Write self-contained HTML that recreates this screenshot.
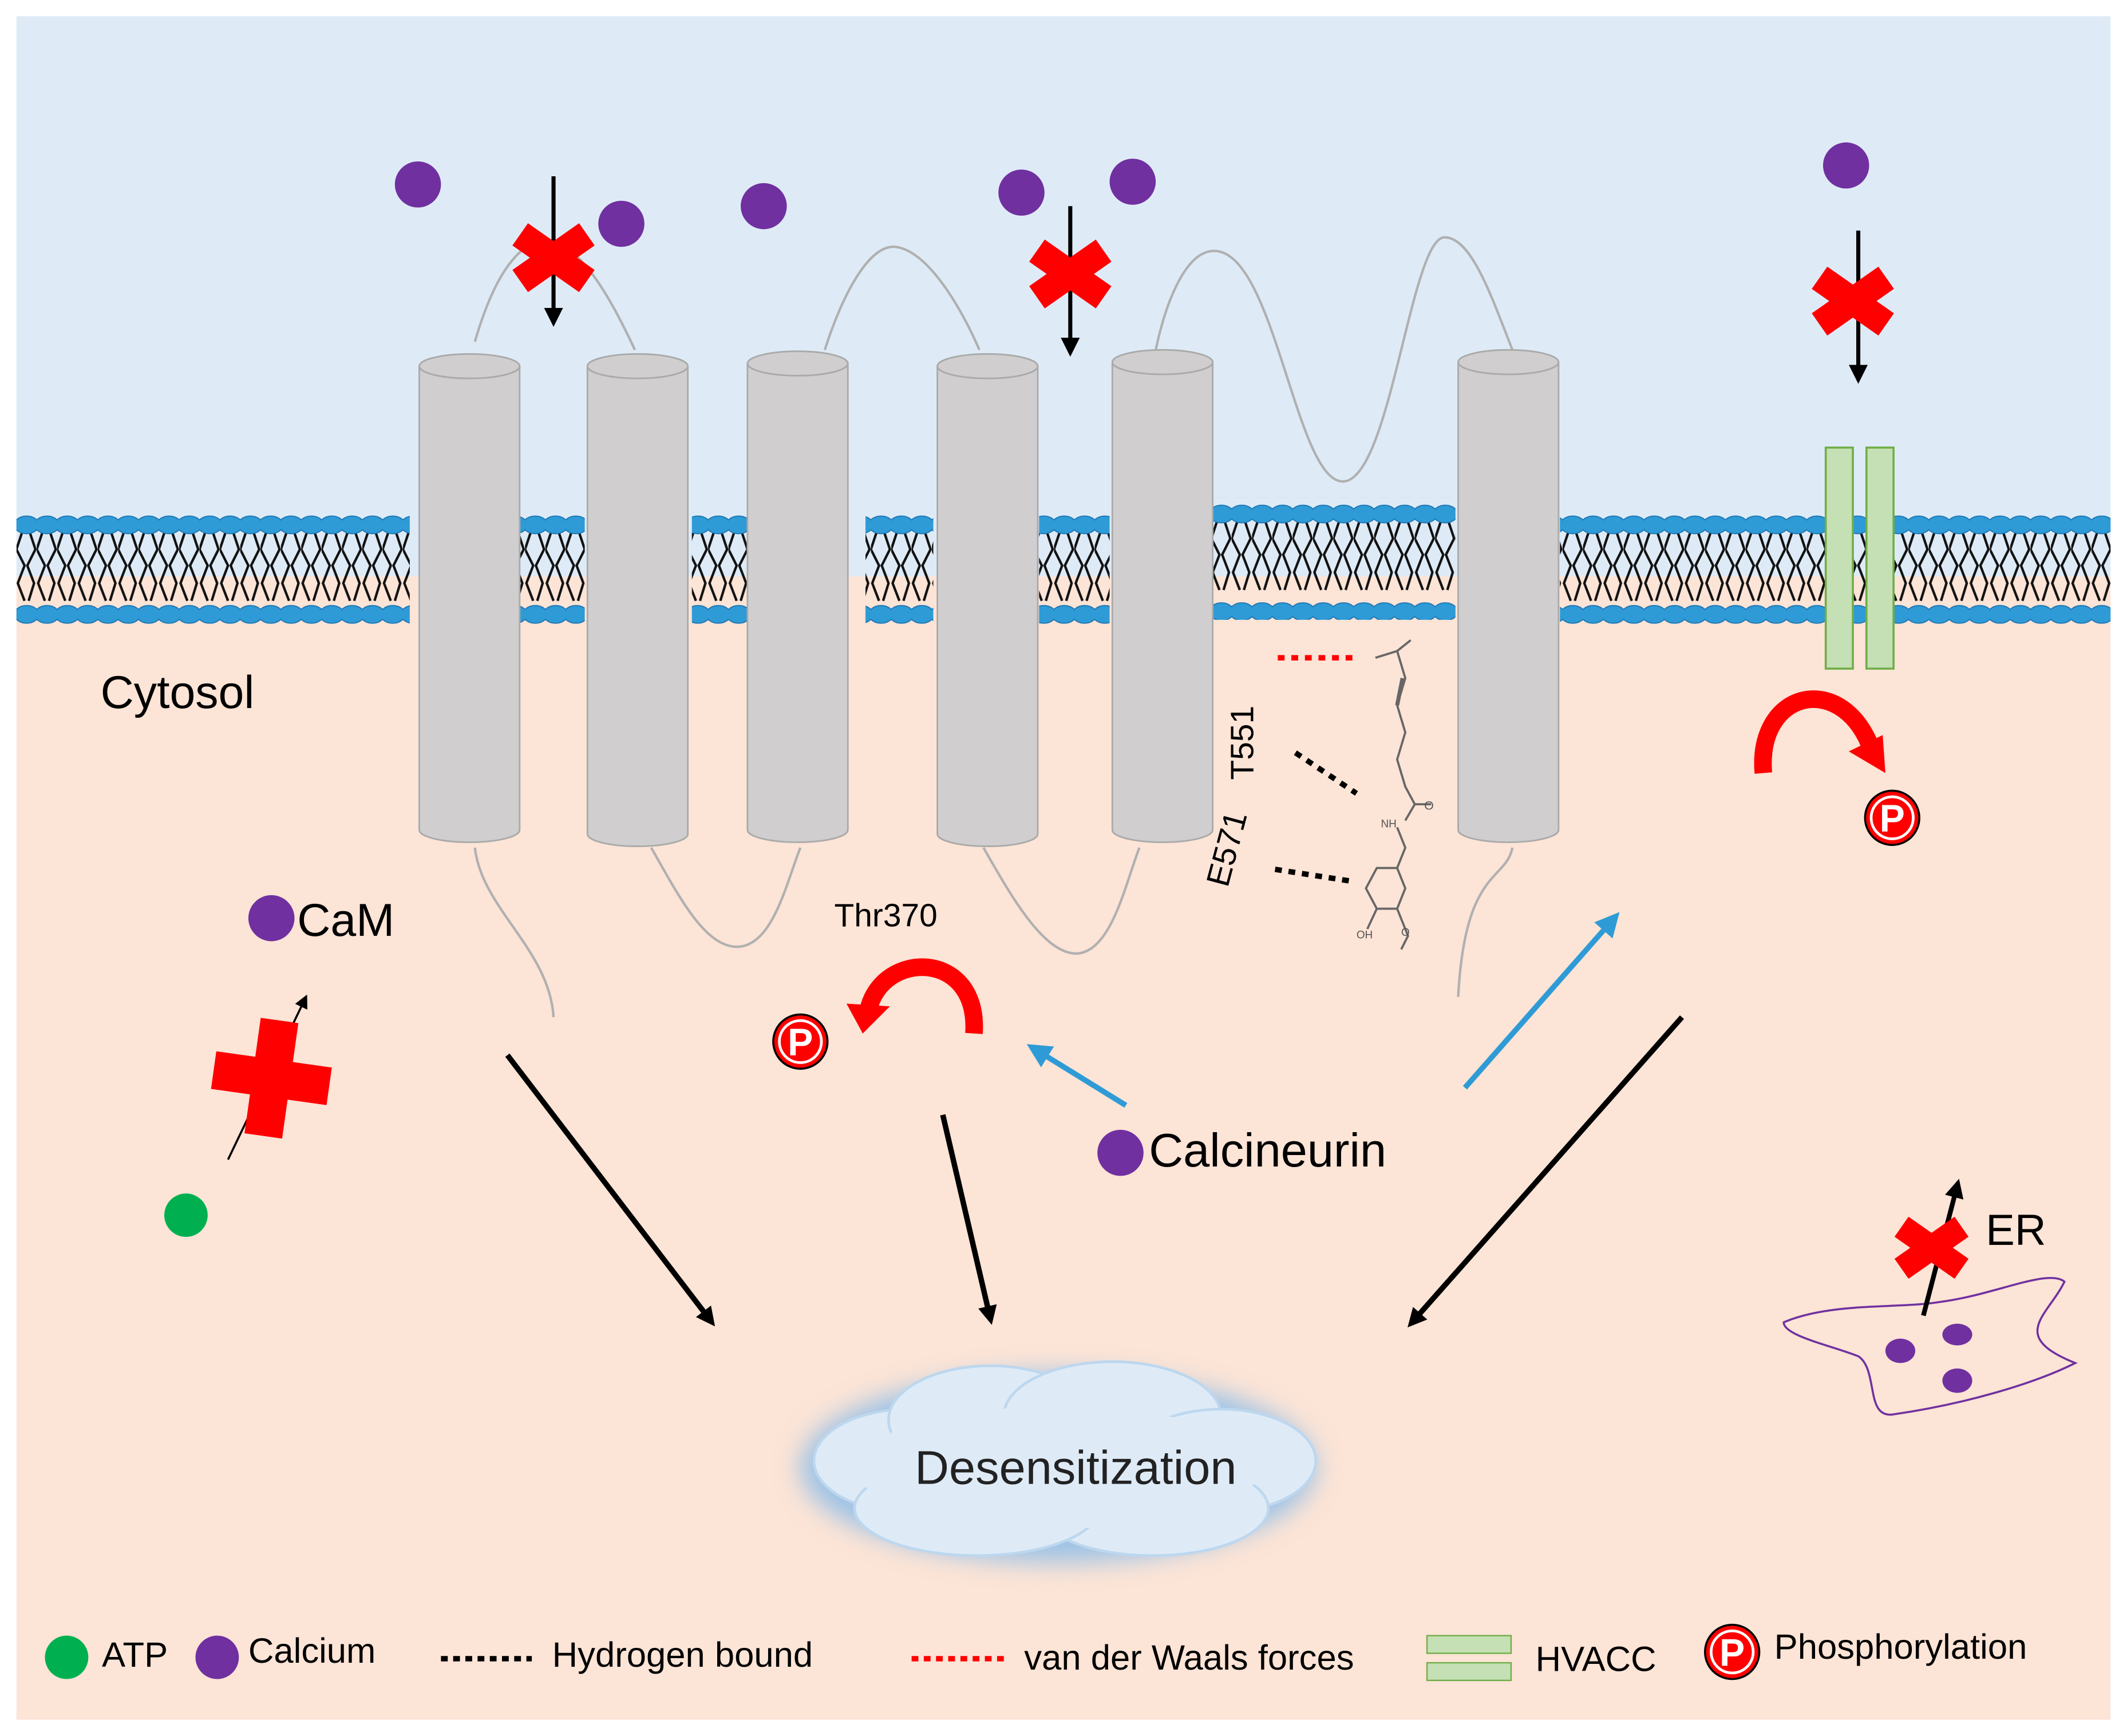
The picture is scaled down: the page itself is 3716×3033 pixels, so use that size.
<!DOCTYPE html>
<html><head><style>html,body{margin:0;padding:0;background:#fff}svg{display:block}</style></head><body>
<svg width="3716" height="3033" viewBox="0 0 1568 1280" xmlns="http://www.w3.org/2000/svg" font-family="Liberation Sans, sans-serif">
<defs>
<pattern id="lip" x="0" y="0" width="15" height="90" patternUnits="userSpaceOnUse" patternTransform="translate(12,375)">
<path d="M4 18 L0 30 L6 42 L1 55 L6 68 M10 18 L14 30 L8 42 L13 55 L9 68" stroke="#111" stroke-width="1.8" fill="none"/>
<ellipse cx="7.5" cy="12" rx="9" ry="6.5" fill="#2e9bd6" stroke="#1f77b4" stroke-width="0.8"/>
<ellipse cx="7.5" cy="78" rx="9" ry="6.5" fill="#2e9bd6" stroke="#1f77b4" stroke-width="0.8"/>
</pattern>
<pattern id="lip2" x="0" y="0" width="15" height="90" patternUnits="userSpaceOnUse" patternTransform="translate(893,367)">
<path d="M4 18 L0 30 L6 42 L1 55 L6 68 M10 18 L14 30 L8 42 L13 55 L9 68" stroke="#111" stroke-width="1.8" fill="none"/>
<ellipse cx="7.5" cy="12" rx="9" ry="6.5" fill="#2e9bd6" stroke="#1f77b4" stroke-width="0.8"/>
<ellipse cx="7.5" cy="84" rx="9" ry="6.5" fill="#2e9bd6" stroke="#1f77b4" stroke-width="0.8"/>
</pattern>
<filter id="glow" x="-30%" y="-50%" width="160%" height="200%"><feGaussianBlur stdDeviation="9"/></filter>
<marker id="ah" markerWidth="10" markerHeight="10" refX="7" refY="5" orient="auto" markerUnits="userSpaceOnUse" viewBox="0 0 10 10"><path d="M0 0 L10 5 L0 10 Z" fill="#000"/></marker>
<marker id="ahb" markerWidth="14" markerHeight="14" refX="9" refY="7" orient="auto" markerUnits="userSpaceOnUse" viewBox="0 0 14 14"><path d="M0 0 L14 7 L0 14 Z" fill="#000"/></marker>
<marker id="ahl" markerWidth="18" markerHeight="18" refX="12" refY="9" orient="auto" markerUnits="userSpaceOnUse" viewBox="0 0 18 18"><path d="M0 0 L18 9 L0 18 Z" fill="#2e9bd6"/></marker>
<g id="x"><rect x="-30" y="-10" width="60" height="20" fill="#f00" transform="rotate(35)"/><rect x="-30" y="-10" width="60" height="20" fill="#f00" transform="rotate(-35)"/></g>
<g id="p"><circle r="20" fill="#f00" stroke="#000" stroke-width="1.5"/><circle r="15.5" fill="none" stroke="#fff" stroke-width="2"/><text y="10" text-anchor="middle" font-size="28" font-weight="bold" fill="#fff">P</text></g>
</defs>
<rect x="12" y="12" width="1544" height="413" fill="#deebf7"/>
<rect x="12" y="425" width="1544" height="843" fill="#fce4d6"/>
<rect x="12" y="375" width="290" height="95" fill="url(#lip)"/>
<rect x="383" y="375" width="48" height="95" fill="url(#lip)"/>
<rect x="510" y="375" width="50" height="95" fill="url(#lip)"/>
<rect x="638" y="375" width="50" height="95" fill="url(#lip)"/>
<rect x="766" y="375" width="52" height="95" fill="url(#lip)"/>
<rect x="893" y="367" width="180" height="95" fill="url(#lip2)"/>
<rect x="1150" y="375" width="406" height="95" fill="url(#lip)"/>
<g fill="none" stroke="#b0b0b0" stroke-width="1.8">
<path d="M350 252 C365 200 385 175 405 178 C430 180 455 230 468 258"/>
<path d="M608 258 C620 220 640 180 660 182 C685 185 710 230 722 258"/>
<path d="M852 258 C860 220 875 185 895 185 C940 185 955 355 990 355 C1025 355 1040 175 1065 175 C1085 175 1100 220 1115 258"/>
<path d="M350 625 C355 670 405 700 408 750"/>
<path d="M480 625 C500 660 520 700 545 698 C570 696 580 650 590 625"/>
<path d="M725 625 C745 660 770 705 795 703 C820 700 830 650 840 625"/>
<path d="M1115 625 C1110 650 1080 640 1075 735"/>
</g>
<g fill="#d0cece" stroke="#aaa" stroke-width="1.2">
<path d="M309 270 V612 A37 9 0 0 0 383 612 V270 Z"/><ellipse cx="346" cy="270" rx="37" ry="9"/>
<path d="M433 270 V615 A37 9 0 0 0 507 615 V270 Z"/><ellipse cx="470" cy="270" rx="37" ry="9"/>
<path d="M551 268 V612 A37 9 0 0 0 625 612 V268 Z"/><ellipse cx="588" cy="268" rx="37" ry="9"/>
<path d="M691 270 V615 A37 9 0 0 0 765 615 V270 Z"/><ellipse cx="728" cy="270" rx="37" ry="9"/>
<path d="M820 267 V612 A37 9 0 0 0 894 612 V267 Z"/><ellipse cx="857" cy="267" rx="37" ry="9"/>
<path d="M1075 267 V612 A37 9 0 0 0 1149 612 V267 Z"/><ellipse cx="1112" cy="267" rx="37" ry="9"/>
</g>
<rect x="1346" y="330" width="20" height="163" fill="#c5e0b4" stroke="#70ad47" stroke-width="1.5"/>
<rect x="1376" y="330" width="20" height="163" fill="#c5e0b4" stroke="#70ad47" stroke-width="1.5"/>
<g fill="#7030a0">
<circle cx="308" cy="136" r="17"/><circle cx="458" cy="165" r="17"/><circle cx="563" cy="152" r="17"/>
<circle cx="753" cy="142" r="17"/><circle cx="835" cy="134" r="17"/><circle cx="1361" cy="122" r="17"/>
<circle cx="200" cy="677" r="17"/><circle cx="826" cy="850" r="17"/>
</g>
<g stroke="#000" stroke-width="3">
<line x1="408" y1="130" x2="408" y2="236" marker-end="url(#ahb)"/>
<line x1="789" y1="152" x2="789" y2="258" marker-end="url(#ahb)"/>
<line x1="1370" y1="170" x2="1370" y2="278" marker-end="url(#ahb)"/>
</g>
<use href="#x" transform="translate(408,190)"/>
<use href="#x" transform="translate(789,202)"/>
<use href="#x" transform="translate(1366,222)"/>
<line x1="168" y1="855" x2="225" y2="736" stroke="#000" stroke-width="1.5" marker-end="url(#ah)"/>
<g transform="translate(200,795) rotate(8)"><rect x="-43" y="-14" width="86" height="28" fill="#f00"/><rect x="-14" y="-43" width="28" height="86" fill="#f00"/></g>
<circle cx="137" cy="896" r="16" fill="#00b050"/>
<g stroke="#000" stroke-width="4">
<line x1="374" y1="778" x2="524" y2="974" marker-end="url(#ahb)"/>
<line x1="695" y1="822" x2="730" y2="972" marker-end="url(#ahb)"/>
<line x1="1240" y1="750" x2="1041" y2="975" marker-end="url(#ahb)"/>
</g>
<g stroke="#2e9bd6" stroke-width="4">
<line x1="830" y1="815" x2="762" y2="773" marker-end="url(#ahl)"/>
<line x1="1080" y1="802" x2="1190" y2="677" marker-end="url(#ahl)"/>
</g>
<path d="M1300 570 C1295 510 1355 495 1378 548" stroke="#f00" stroke-width="13" fill="none"/>
<path d="M1365 552 L1392 568 L1390 540 Z" fill="#f00" transform="translate(-2,2)"/>
<use href="#p" transform="translate(1395,603)"/>
<path d="M718 762 C722 700 650 700 640 745" stroke="#f00" stroke-width="13" fill="none"/>
<path d="M624 740 L636 762 L656 742 Z" fill="#f00"/>
<use href="#p" transform="translate(590,768)"/>
<g stroke="#666" stroke-width="1.6" fill="none">
<path d="M1014 485 L1030 480 L1040 472 M1030 480 L1036 500 L1030 520 L1036 540 L1030 560 L1036 580 L1043 593 L1036 605 M1043 593 L1055 593"/>
<path d="M1034 500 L1030 520" stroke-width="3"/>
<path d="M1030 610 L1036 625 L1030 640 L1015 640 L1007 655 L1015 670 L1030 670 L1036 655 L1030 640 M1015 670 L1008 685 M1030 670 L1038 690 L1033 700"/>
</g>
<text x="1050" y="597" font-size="9" fill="#555">O</text>
<text x="1018" y="610" font-size="8" fill="#555">NH</text>
<text x="1000" y="692" font-size="8" fill="#555">OH</text>
<text x="1033" y="690" font-size="8" fill="#555">O</text>
<line x1="942" y1="485" x2="1000" y2="485" stroke="#f00" stroke-width="4" stroke-dasharray="5,5"/>
<line x1="955" y1="555" x2="1000" y2="585" stroke="#000" stroke-width="4" stroke-dasharray="5,5"/>
<line x1="940" y1="641" x2="998" y2="650" stroke="#000" stroke-width="4" stroke-dasharray="5,5"/>
<text transform="translate(924,575) rotate(-90)" font-size="24">T551</text>
<text transform="translate(905,655) rotate(-75)" font-size="24">E571</text>
<path d="M1315 975 C1350 960 1400 965 1430 960 C1470 955 1510 935 1522 945 C1510 970 1480 985 1530 1005 C1500 1020 1450 1035 1395 1043 C1375 1045 1385 1010 1370 1000 C1350 992 1315 985 1315 975 Z" fill="none" stroke="#7030a0" stroke-width="1.5"/>
<g fill="#7030a0"><ellipse cx="1401" cy="996" rx="11" ry="9"/><ellipse cx="1443" cy="984" rx="11" ry="8"/><ellipse cx="1443" cy="1018" rx="11" ry="9"/></g>
<line x1="1418" y1="970" x2="1443" y2="874" stroke="#000" stroke-width="3.5" marker-end="url(#ahb)"/>
<use href="#x" transform="translate(1424,920) scale(0.9)"/>
<g transform="translate(780,1082)">
<ellipse rx="190" ry="70" fill="#9dc3e6" filter="url(#glow)"/>
<g fill="#deebf7" stroke="#bdd7ee" stroke-width="2">
<ellipse cx="-110" cy="-5" rx="70" ry="38"/><ellipse cx="-50" cy="-35" rx="75" ry="40"/><ellipse cx="40" cy="-38" rx="80" ry="40"/>
<ellipse cx="120" cy="-5" rx="70" ry="38"/><ellipse cx="70" cy="30" rx="85" ry="35"/><ellipse cx="-60" cy="30" rx="90" ry="35"/>
<ellipse cx="0" cy="0" rx="150" ry="45" stroke="none"/>
</g>
</g>
<text x="74" y="522" font-size="34">Cytosol</text>
<text x="219" y="690" font-size="34">CaM</text>
<text x="615" y="683" font-size="24">Thr370</text>
<text x="847" y="860" font-size="35">Calcineurin</text>
<text x="1464" y="918" font-size="32">ER</text>
<text x="793" y="1094" font-size="35" text-anchor="middle" fill="#222">Desensitization</text>
<circle cx="49" cy="1222" r="16" fill="#00b050"/><text x="75" y="1229" font-size="26">ATP</text>
<circle cx="160" cy="1222" r="16" fill="#7030a0"/><text x="183" y="1226" font-size="26">Calcium</text>
<line x1="325" y1="1223" x2="392" y2="1223" stroke="#000" stroke-width="4" stroke-dasharray="5,4"/>
<text x="407" y="1229" font-size="26">Hydrogen bound</text>
<line x1="672" y1="1223" x2="740" y2="1223" stroke="#f00" stroke-width="4" stroke-dasharray="5,4"/>
<text x="755" y="1231" font-size="26">van der Waals forces</text>
<rect x="1052" y="1206" width="62" height="13" fill="#c5e0b4" stroke="#70ad47"/>
<rect x="1052" y="1226" width="62" height="13" fill="#c5e0b4" stroke="#70ad47"/>
<text x="1132" y="1232" font-size="26">HVACC</text>
<use href="#p" transform="translate(1277,1218)"/>
<text x="1308" y="1223" font-size="26">Phosphorylation</text>
</svg>
</body></html>
